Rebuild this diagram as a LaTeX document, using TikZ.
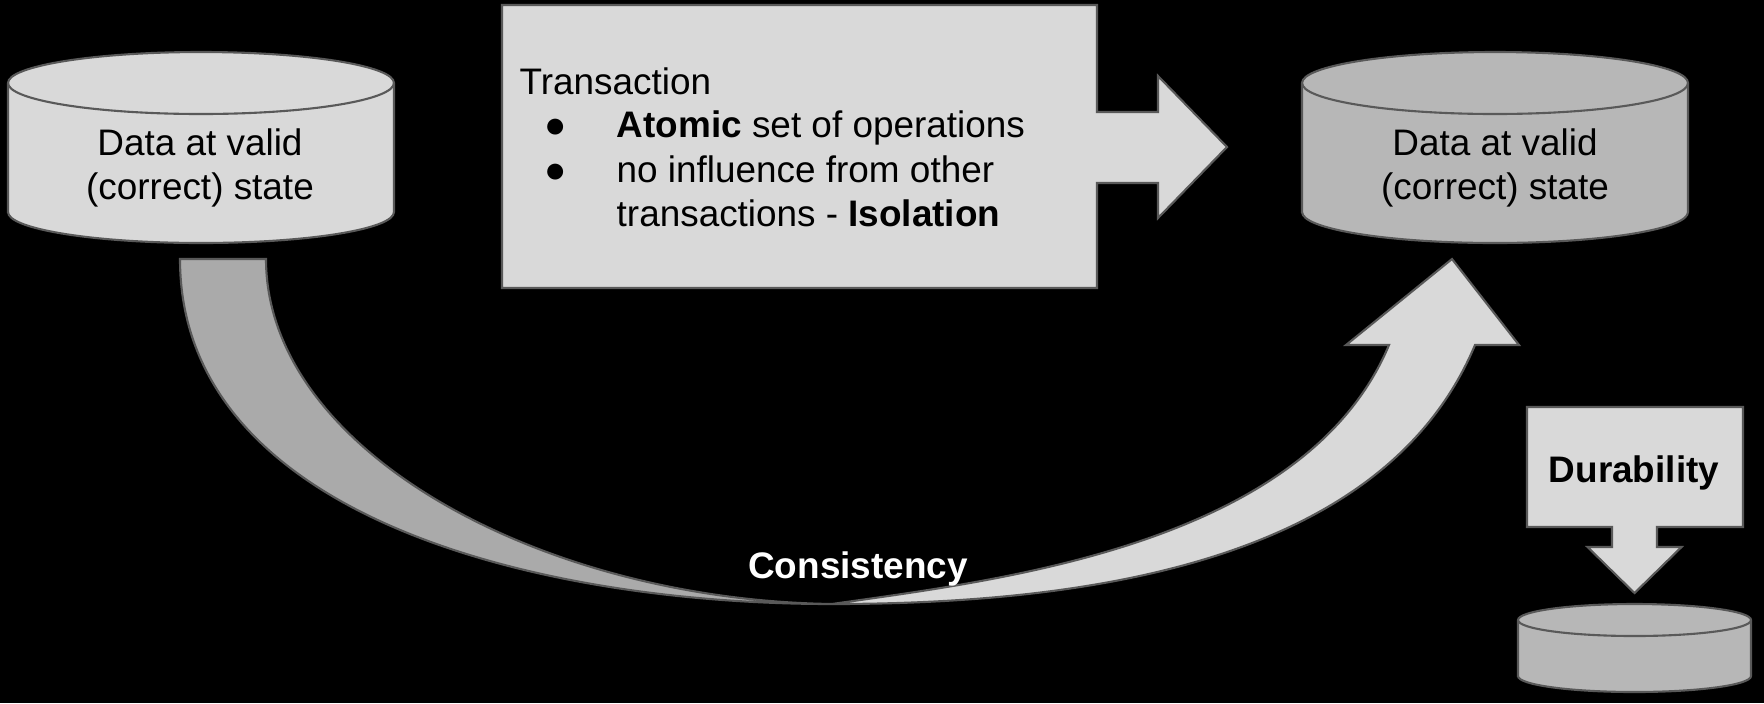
\documentclass[tikz,border=0pt]{standalone}
\usepackage{fontspec}
\setmainfont{Liberation Sans}
\definecolor{edgegray}{HTML}{595959}
\definecolor{paleface}{HTML}{D9D9D9}
\definecolor{darkface}{HTML}{B7B7B7}
\definecolor{bandface}{HTML}{AAAAAA}
\tikzset{
  outline/.style={draw=edgegray, line width=0.6pt},
  txt/.style={inner sep=0pt, font=\fontsize{10.5}{12.5}\selectfont}
}
% cylinder: centre x, top y, bottom y, x radius, y radius, fill
\newcommand{\datadrum}[6]{%
  \filldraw[outline, fill=#6] (#1-#4, #3) -- (#1-#4, #2)
    arc[start angle=180, end angle=0, x radius=#4, y radius=#5] -- (#1+#4, #3)
    arc[start angle=0, end angle=-180, x radius=#4, y radius=#5] -- cycle;
  \draw[outline] (#1-#4, #2) arc[start angle=180, end angle=360, x radius=#4, y radius=#5];
}
\begin{document}
\begin{tikzpicture}
    \fill[black] (0, 0) rectangle (17.64, 7.03);
    \useasboundingbox (0, 0) rectangle (17.64, 7.03);
    % data stores
    \datadrum{2.01}{6.20}{4.91}{1.93}{0.31}{paleface}
    \datadrum{14.95}{6.20}{4.91}{1.93}{0.31}{darkface}
    \datadrum{16.345}{0.83}{0.27}{1.165}{0.16}{darkface}
    \node[txt, align=center] (validA) at (2.00, 5.355) {Data at valid\\(correct) state};
    \node[txt, align=center] (validB) at (14.95, 5.355) {Data at valid\\(correct) state};
    % transaction box with arrow
    \filldraw[outline, fill=paleface] (5.02, 6.98) -- (10.97, 6.98) -- (10.97, 5.91) -- (11.58, 5.91)
        -- (11.58, 6.27) -- (12.27, 5.56) -- (11.58, 4.85) -- (11.58, 5.20) -- (10.97, 5.20)
        -- (10.97, 4.15) -- (5.02, 4.15) -- cycle;
    \node[txt, anchor=base west] (trans)     at (5.19, 6.09) {Transaction};
    \node[txt, anchor=base west] (dotA)      at (5.435, 5.66) {●};
    \node[txt, anchor=base west] (dotB)      at (5.435, 5.21) {●};
    \node[txt, anchor=base west] (atomic)    at (6.16, 5.66) {\textbf{Atomic} set of operations};
    \node[txt, anchor=base west] (influence) at (6.16, 5.21) {no influence from other};
    \node[txt, anchor=base west] (isolation) at (6.16, 4.77) {transactions - \textbf{Isolation}};
    % consistency band
    \filldraw[outline, fill=bandface] (1.80, 4.44) -- (2.66, 4.44)
        .. controls (2.66, 2.53) and (5.40, 1.03) .. (8.32, 0.99)
        .. controls (5.32, 0.99) and (1.80, 1.89) .. cycle;
    \filldraw[outline, fill=paleface] (8.32, 0.99)
        .. controls (11.32, 0.99) and (13.91, 1.58) .. (14.75, 3.58)
        -- (15.19, 3.58) -- (14.52, 4.44) -- (13.46, 3.58) -- (13.89, 3.58)
        .. controls (13.05, 1.58) and (10.00, 1.23) .. cycle;
    \node[txt, anchor=base, text=white] (consistency) at (8.58, 1.25) {\textbf{Consistency}};
    % durability box with arrow
    \filldraw[outline, fill=paleface] (15.27, 2.96) -- (17.43, 2.96) -- (17.43, 1.76) -- (16.57, 1.76)
        -- (16.57, 1.56) -- (16.815, 1.56) -- (16.345, 1.10) -- (15.875, 1.56) -- (16.12, 1.56)
        -- (16.12, 1.76) -- (15.27, 1.76) -- cycle;
    \node[txt, anchor=base] (durability) at (16.34, 2.21) {\textbf{Durability}};
\end{tikzpicture}
\end{document}
